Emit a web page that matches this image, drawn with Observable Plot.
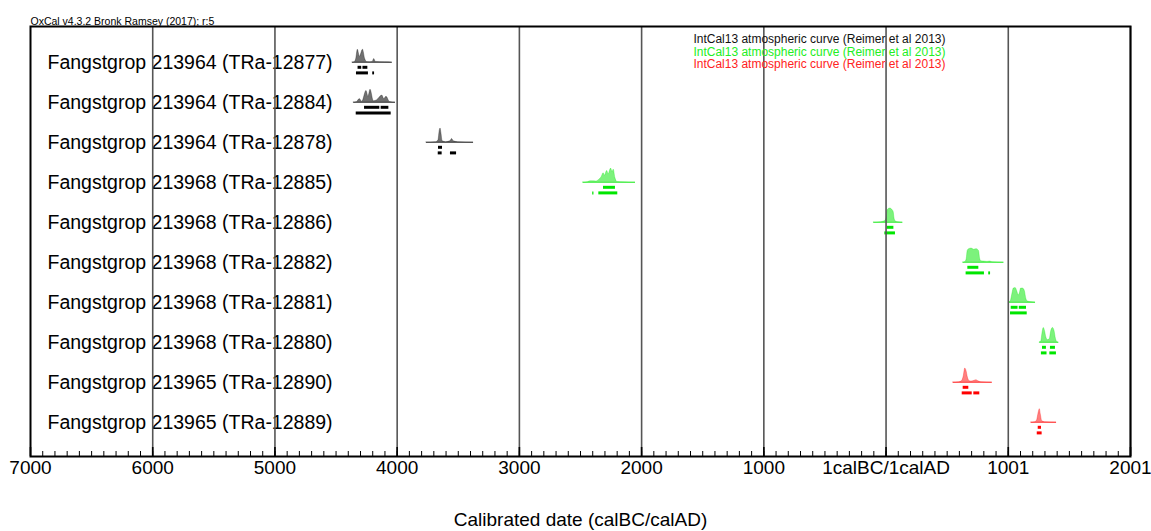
<!DOCTYPE html>
<html>
<head>
<meta charset="utf-8">
<script src="https://cdn.jsdelivr.net/npm/d3@7"></script>
<script src="https://cdn.jsdelivr.net/npm/@observablehq/plot@0.6"></script>
<style>
  html, body { margin: 0; padding: 0; background: #fff; }
  #chart { width: 1151px; height: 531px; }
</style>
</head>
<body>
<div id="chart"></div>
<script>
// ---- data ----
const labels = [
  "Fangstgrop 213964 (TRa-12877)",
  "Fangstgrop 213964 (TRa-12884)",
  "Fangstgrop 213964 (TRa-12878)",
  "Fangstgrop 213968 (TRa-12885)",
  "Fangstgrop 213968 (TRa-12886)",
  "Fangstgrop 213968 (TRa-12882)",
  "Fangstgrop 213968 (TRa-12881)",
  "Fangstgrop 213968 (TRa-12880)",
  "Fangstgrop 213965 (TRa-12890)",
  "Fangstgrop 213965 (TRa-12889)"
];
const groups = ["black", "black", "black", "green", "green", "green", "green", "green", "red", "red"];

// calibrated probability curves: [year (BC negative), relative probability]
const prob = [
  [[-4365,0],[-4345,0.5],[-4335,3],[-4322,11],[-4305,5],[-4280,11],[-4262,3],[-4248,0.5],[-4225,0.3],[-4200,0.5],[-4188,3],[-4175,0.5],[-4100,0.2],[-4040,0]],
  [[-4355,0],[-4327,0.5],[-4306,3],[-4286,0.5],[-4251,10],[-4235,5],[-4218,11],[-4191,1],[-4163,2],[-4122,6],[-4106,3],[-4087,5],[-4060,0.5],[-4014,0]],
  [[-3760,0],[-3680,0.3],[-3662,2],[-3652,10],[-3645,12],[-3638,8],[-3628,1],[-3600,0.3],[-3565,1],[-3550,3],[-3538,1],[-3500,0.3],[-3375,0]],
  [[-2478,0],[-2440,0.3],[-2418,1],[-2400,1],[-2370,0.8],[-2350,2],[-2325,5],[-2312,8],[-2300,6],[-2282,10],[-2270,7],[-2250,12],[-2238,9],[-2228,11],[-2215,4],[-2200,0.5],[-2150,0.2],[-2050,0]],
  [[-100,0],[-40,0.3],[-10,1],[5,4],[12,10],[20,11.5],[35,12],[50,11],[62,9],[70,3],[80,0.8],[100,0.3],[137,0]],
  [[631,0],[650,0.5],[660,3],[668,10],[680,11.5],[700,12],[720,11],[740,11.5],[760,10],[770,3],[780,1],[800,0.8],[830,0.5],[850,0.8],[870,0.3],[964,0]],
  [[1005,0],[1020,1],[1035,8],[1045,12],[1060,12.5],[1075,9],[1085,6],[1095,8],[1105,12],[1120,12],[1135,10],[1148,3],[1160,0.8],[1180,0.4],[1223,0]],
  [[1258,0],[1270,1],[1280,8],[1290,12.5],[1300,10],[1312,4],[1325,2],[1340,3],[1350,9],[1365,12.5],[1378,10],[1390,3],[1400,0.5],[1413,0]],
  [[550,0],[600,0.3],[620,1],[635,5],[648,12],[658,10],[670,4],[685,1],[700,0.8],[725,1.5],[740,2],[755,1],[780,0.3],[869,0]],
  [[1188,0],[1220,0.3],[1235,1.5],[1248,8],[1258,11.5],[1266,7],[1278,1],[1300,0.3],[1395,0]]
];

// 68.2% and 95.4% probability ranges
const range68 = [
  [[-4320,-4290],[-4280,-4240]],
  [[-4267,-4142],[-4131,-4068]],
  [[-3662,-3629]],
  [[-2312,-2214]],
  [[10,64]],
  [[669,759]],
  [[1024,1080],[1090,1149]],
  [[1280,1312],[1345,1386]],
  [[631,677]],
  [[1245,1272]]
];
const range95 = [
  [[-4333,-4235],[-4200,-4185]],
  [[-4335,-4049]],
  [[-3664,-3632],[-3564,-3514]],
  [[-2400,-2390],[-2350,-2195]],
  [[-10,77]],
  [[655,805],[840,855]],
  [[1018,1155]],
  [[1271,1317],[1340,1394]],
  [[623,705],[718,767]],
  [[1237,1277]]
];

const majorTicks = [-7000, -6000, -5000, -4000, -3000, -2000, -1000, 0, 1000, 2000];
const majorTickLabels = ["7000", "6000", "5000", "4000", "3000", "2000", "1000", "1calBC/1calAD", "1001", "2001"];
const curveLabels = [
  "IntCal13 atmospheric curve (Reimer et al 2013)",
  "IntCal13 atmospheric curve (Reimer et al 2013)",
  "IntCal13 atmospheric curve (Reimer et al 2013)"
];
const curveGroups = ["black", "green", "red"];
const headerText = "OxCal v4.3.2 Bronk Ramsey (2017); r:5";
const axisTitle = "Calibrated date (calBC/calAD)";

// ---- styles ----
const fillColor = {black: "#707070", green: "#7cf27c", red: "#ff7f7f"};
const lineColor = {black: "#000000", green: "#00e600", red: "#ff0000"};
const textColor = {black: "#111111", green: "#22ee22", red: "#ff2222"};
const probScale = 0.029; // row units per probability unit

// ---- derived tables ----
const curvePts = prob.flatMap((pts, r) => pts.map(([year, p]) => ({row: r, year, p, group: groups[r]})));
const baselines = prob.map((pts, r) => ({row: r, start: pts[0][0], end: pts[pts.length - 1][0], group: groups[r]}));
const bars68 = range68.flatMap((rs, r) => rs.map(([a, b]) => ({row: r, a, b, group: groups[r]})));
const bars95 = range95.flatMap((rs, r) => rs.map(([a, b]) => ({row: r, a, b, group: groups[r]})));
const rowsTable = labels.map((label, r) => ({row: r, label}));
const minorTicks = d3.range(-7000, 2001, 100);
const plotH = 531 - 26 - 75;

const legendMarks = curveLabels.map((label, i) =>
  Plot.text([label], {frameAnchor: "top-right", text: d => d, dx: -185, dy: 8 + i * 12.5, textAnchor: "end", fontSize: 12, fill: textColor[curveGroups[i]]})
);

const chart = Plot.plot({
  width: 1151,
  height: 531,
  marginLeft: 30,
  marginRight: 21,
  marginTop: 26,
  marginBottom: 75,
  style: {fontFamily: "'Liberation Sans', Arial, sans-serif", fontSize: "19px", background: "#fff", color: "#000", overflow: "visible"},
  x: {domain: [-7000, 2000], axis: null},
  y: {domain: [-0.9, 9.85], reverse: true, axis: null},
  color: {type: "identity"},
  marks: [
    // row labels
    Plot.text(rowsTable, {frameAnchor: "left", y: "row", text: "label", dx: 17, textAnchor: "start", fontSize: 19.5, fill: "#000"}),
    // probability areas
    Plot.areaY(curvePts, {x: "year", y1: "row", y2: d => d.row - d.p * probScale, z: "row", fill: d => fillColor[d.group], stroke: d => lineColor[d.group], strokeWidth: 0.3, curve: "monotone-x"}),
    // baselines
    Plot.ruleY(baselines, {y: "row", x1: "start", x2: "end", stroke: d => lineColor[d.group], strokeWidth: 0.8, strokeOpacity: 0.7}),
    // range bars
    Plot.ruleY(bars68, {y: d => d.row + 0.12, x1: "a", x2: "b", stroke: d => lineColor[d.group], strokeWidth: 3}),
    Plot.ruleY(bars95, {y: d => d.row + 0.26, x1: "a", x2: "b", stroke: d => lineColor[d.group], strokeWidth: 3}),
    // grid
    Plot.ruleX(majorTicks.slice(1), {stroke: "#555", strokeWidth: 1.6}),
    // minor & major ticks
    Plot.ruleX(minorTicks, {insetTop: plotH - 5, stroke: "#000", strokeWidth: 1}),
    Plot.ruleX(majorTicks, {insetTop: plotH - 9, stroke: "#000", strokeWidth: 1.6}),
    // tick labels
    Plot.text(majorTicks, {x: d => d, frameAnchor: "bottom", dy: 17, text: (d, i) => majorTickLabels[i], fontSize: 19, fill: "#000"}),
    // axis title
    Plot.text([axisTitle], {frameAnchor: "bottom", text: d => d, dy: 69, fontSize: 19, fill: "#000"}),
    // header
    Plot.text([headerText], {frameAnchor: "top-left", text: d => d, dy: -9, textAnchor: "start", fontSize: 10.5, fill: "#000"}),
    // curve legend
    ...legendMarks,
    // frame
    Plot.frame({stroke: "#000", strokeWidth: 2})
  ]
});
document.getElementById("chart").appendChild(chart);
</script>
</body>
</html>
